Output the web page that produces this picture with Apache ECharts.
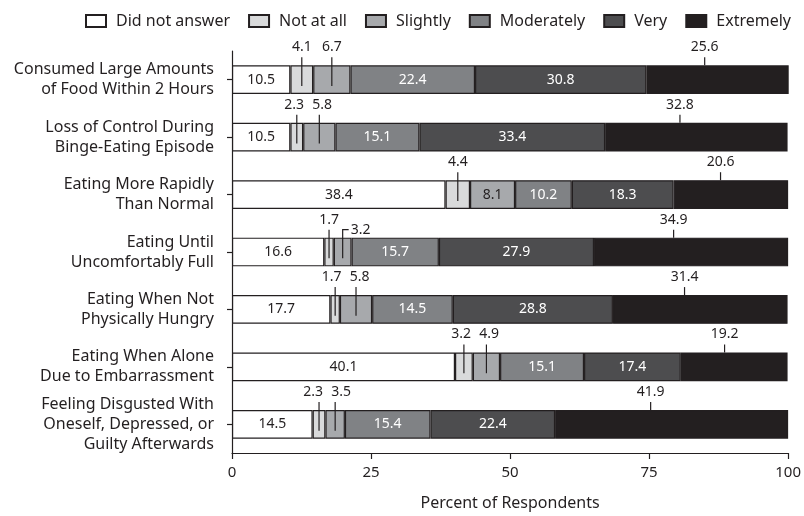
<!DOCTYPE html>
<html>
<head>
<meta charset="utf-8">
<script src="https://cdn.jsdelivr.net/npm/echarts@6/dist/echarts.min.js"></script>
<style>
  html, body { margin: 0; padding: 0; background: #fff; }
  #chart { width: 804px; height: 516px; }
</style>
</head>
<body>
<div id="chart"></div>
<script>
var categories = [
  'Consumed Large Amounts\nof Food Within 2 Hours',
  'Loss of Control During\nBinge-Eating Episode',
  'Eating More Rapidly\nThan Normal',
  'Eating Until\nUncomfortably Full',
  'Eating When Not\nPhysically Hungry',
  'Eating When Alone\nDue to Embarrassment',
  'Feeling Disgusted With\nOneself, Depressed, or\nGuilty Afterwards'
];
var levels = ['Did not answer', 'Not at all', 'Slightly', 'Moderately', 'Very', 'Extremely'];
var didNotAnswer = [10.5, 10.5, 38.4, 16.6, 17.7, 40.1, 14.5];
var notAtAll = [4.1, 2.3, 4.4, 1.7, 1.7, 3.2, 2.3];
var slightly = [6.7, 5.8, 8.1, 3.2, 5.8, 4.9, 3.5];
var moderately = [22.4, 15.1, 10.2, 15.7, 14.5, 15.1, 15.4];
var very = [30.8, 33.4, 18.3, 27.9, 28.8, 17.4, 22.4];
var extremely = [25.6, 32.8, 20.6, 34.9, 31.4, 19.2, 41.9];
var xTicks = [0, 25, 50, 75, 100];

var ink = '#231f20';
var font = '"Noto Sans", "Open Sans", sans-serif';
var values = [didNotAnswer, notAtAll, slightly, moderately, very, extremely];
var fills = ['#ffffff', '#d9dadb', '#a7a9ac', '#808285', '#4d4d4f', '#231f20'];
var labelColors = [ink, ink, ink, '#ffffff', '#ffffff', ink];

// which segments get a label inside the bar
function insideLabel(s, v) {
  if (s === 0 || s === 3 || s === 4) return true;
  if (s === 2) return v >= 8;
  return false;
}

var myChart = echarts.init(document.getElementById('chart'));

var series = levels.map(function (name, s) {
  return {
    name: name,
    type: 'bar',
    stack: 'total',
    barWidth: '50%',
    data: values[s],
    itemStyle: { color: fills[s], borderColor: ink, borderWidth: 1.2 },
    label: {
      show: insideLabel(s, 100),
      position: 'inside',
      color: labelColors[s],
      fontSize: 14,
      fontFamily: font,
      formatter: function (p) {
        return insideLabel(s, p.value) ? p.value.toFixed(1) : '';
      }
    },
    emphasis: { disabled: true }
  };
});

// leader lines + labels for thin segments and for "Extremely"
function renderCallouts(params, api) {
  var row = api.value(1);
  var parts = values.map(function (arr) { return arr[row]; });
  var starts = [];
  var acc = 0;
  parts.forEach(function (v) { starts.push(acc); acc += v; });
  var band = api.size([0, 1])[1];
  var yc = api.coord([0, row])[1];
  var top = yc - band * 0.25;
  var bottom = yc + band * 0.25;

  var small = [1];
  if (!insideLabel(2, slightly[row])) small.push(2);
  var xs = small.map(function (i) {
    return api.coord([starts[i] + parts[i] / 2, row])[0];
  });
  var tx = xs.slice();
  var bracket = false;
  if (xs.length === 2) {
    var gap = xs[1] - xs[0];
    if (gap < 15) {
      bracket = true;
    } else if (gap < 28) {
      var push = (28 - gap) / 2;
      tx[0] -= push;
      tx[1] += push;
    }
  }

  var children = [];
  var lineStyle = { stroke: ink, lineWidth: 1.2, fill: null };
  function text(str, x, y, align) {
    children.push({
      type: 'text',
      style: {
        text: str, x: x, y: y, align: align || 'center', verticalAlign: 'middle',
        fill: ink, fontSize: 14, fontFamily: font
      }
    });
  }
  small.forEach(function (i, k) {
    var x = xs[k];
    var str = parts[i].toFixed(1);
    if (bracket && k === 1) {
      children.push({ type: 'polyline', shape: { points: [[x, bottom - 8], [x, top - 8], [x + 6, top - 8]] }, style: lineStyle });
      text(str, x + 8, top - 8, 'left');
    } else {
      children.push({ type: 'line', shape: { x1: x, y1: top - 8, x2: x, y2: bottom - 8 }, style: lineStyle });
      text(str, tx[k], top - 18);
    }
  });

  var xe = api.coord([starts[5] + parts[5] * 0.41, row])[0];
  children.push({ type: 'line', shape: { x1: xe, y1: top - 8, x2: xe, y2: top }, style: lineStyle });
  text(parts[5].toFixed(1), xe, top - 18);

  return { type: 'group', children: children };
}

series.push({
  type: 'custom',
  name: 'callouts',
  silent: true,
  z: 5,
  encode: { x: 0, y: 1 },
  data: categories.map(function (c, i) { return [0, i]; }),
  renderItem: renderCallouts
});

var option = {
  animation: false,
  textStyle: { fontFamily: font, color: ink },
  legend: {
    data: levels,
    top: 8,
    left: 80,
    itemWidth: 20,
    itemHeight: 12,
    itemGap: 18,
    icon: 'rect',
    textStyle: { fontSize: 16, color: ink, fontFamily: font, padding: [0, 0, 0, 5] }
  },
  grid: { left: 232, right: 14, top: 51, bottom: 59 },
  xAxis: {
    type: 'value',
    min: 0,
    max: 100,
    interval: 25,
    name: 'Percent of Respondents',
    nameLocation: 'middle',
    nameGap: 42,
    nameTextStyle: { fontSize: 16, color: ink, fontFamily: font },
    splitLine: { show: false },
    axisLine: { show: true, lineStyle: { color: ink, width: 1.2 } },
    axisTick: { show: true, length: 6, lineStyle: { color: ink, width: 1.2 } },
    axisLabel: {
      fontSize: 15, color: ink, margin: 12, fontFamily: font,
      formatter: function (v) { return xTicks.indexOf(v) >= 0 ? String(v) : ''; }
    }
  },
  yAxis: {
    type: 'category',
    inverse: true,
    data: categories,
    axisLine: { show: true, lineStyle: { color: ink, width: 1.2 } },
    axisTick: { show: true, alignWithLabel: true, length: 5, lineStyle: { color: ink, width: 1.2 } },
    axisLabel: {
      fontSize: 16, color: ink, lineHeight: 20, margin: 18, align: 'right', fontFamily: font
    }
  },
  series: series
};
option && myChart.setOption(option);
</script>
</body>
</html>
